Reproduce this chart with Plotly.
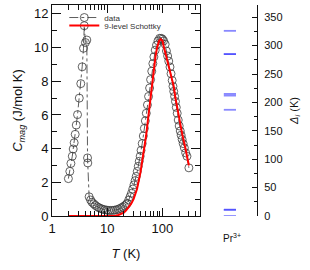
import plotly.graph_objects as go

# ---- data ----
T_data = [1.98, 2.1, 2.2, 2.33, 2.42, 2.52, 2.63, 2.75, 2.9, 3.12, 3.32, 3.52, 3.72, 3.84, 4.03, 4.27,
          4.40, 4.45, 4.7, 5.0, 5.3, 5.7, 6.1, 6.6, 7.1, 7.7, 8.3, 9.0, 9.8, 10.6, 11.5, 12.5, 13.6,
          14.8, 16.0, 17.4, 18.9, 20.5, 22.0, 23.0, 24.5, 26.0, 27.5, 29.0, 30.5, 32.0, 33.5, 35.0,
          36.5, 38.0, 39.5, 41.0, 43.0, 45.0, 47.0, 49.0, 51.0, 53.5, 56.0, 58.5, 61.0, 64.0, 67.0,
          70.0, 74.0, 78.0, 83.0, 89.0, 95.0, 100.0, 105.0, 112.0, 118.0, 124.0, 130.0, 137.0, 143.0,
          150.0, 155.0, 160.0, 166.0, 172.0, 178.0, 185.0, 193.0, 201.0, 210.0, 218.0, 227.0, 237.0,
          249.0, 263.0, 278.0, 301.0]
C_data = [2.22, 2.65, 3.12, 3.55, 3.98, 4.35, 4.85, 5.4, 6.02, 7.0, 7.86, 8.86, 9.96, 11.3, 10.3, 10.45,
          3.45, 3.15, 1.14, 0.95, 0.82, 0.72, 0.63, 0.55, 0.49, 0.44, 0.40, 0.37, 0.35, 0.33, 0.33, 0.33,
          0.35, 0.37, 0.41, 0.46, 0.53, 0.60, 0.68, 0.75, 0.95, 1.15, 1.35, 1.6, 1.85, 2.1, 2.35, 2.65,
          2.95, 3.25, 3.55, 3.9, 4.3, 4.75, 5.2, 5.65, 6.1, 6.6, 7.1, 7.6, 8.1, 8.6, 9.05, 9.45, 9.85,
          10.15, 10.4, 10.55, 10.55, 10.5, 10.4, 10.2, 9.8, 9.5, 9.2, 8.85, 8.45, 8.05, 7.7, 7.4, 7.1,
          6.8, 6.45, 6.1, 5.7, 5.35, 5.05, 4.8, 4.55, 4.3, 4.05, 3.75, 3.55, 2.86]

T_fit = [2, 5, 10, 14, 16, 18, 20, 22, 24.4, 27, 30, 34.6, 40, 45.6, 50.5, 55, 60, 65, 70, 75, 80,
         87, 93, 100, 105, 121, 139, 160, 172, 197, 228, 262, 301]
C_fit = [0, 0, 0, 0.02, 0.06, 0.12, 0.2, 0.33, 0.5, 0.72, 1.0, 1.6, 2.6, 3.75, 4.75, 5.8, 6.9, 7.9,
         8.8, 9.5, 10.0, 10.4, 10.5, 10.4, 10.1, 9.27, 8.5, 7.7, 7.0, 5.84, 4.86, 3.98, 3.0]

levels_K = [0, 11, 11, 187, 212, 215, 285, 285, 326]   # Pr3+ crystal-field levels
level_x = [0.21, 0.5]

x_ticks = [1, 10, 100]
x_minor = [2, 3, 4, 5, 6, 7, 8, 9, 20, 30, 40, 50, 60, 70, 80, 90, 200, 300, 400]

FONT = "Liberation Sans, Arial, sans-serif"

fig = go.Figure()
fig.add_trace(go.Scatter(
    x=T_data, y=C_data, mode="lines+markers", name="data", legend="legend",
    line=dict(color="#333", width=0.8, dash="dashdot"),
    marker=dict(symbol="circle-open", size=8, color="#3a3a3a", line=dict(width=0.8)),
    xaxis="x", yaxis="y"))
fig.add_trace(go.Scatter(
    x=T_fit, y=C_fit, mode="lines", name="9-level Schottky", legend="legend2",
    line=dict(color="#ff0000", width=2), xaxis="x", yaxis="y"))

for lv in levels_K:
    fig.add_trace(go.Scatter(
        x=level_x, y=[lv, lv], mode="lines", showlegend=False,
        line=dict(color="rgba(40,40,255,0.55)", width=1.8), xaxis="x2", yaxis="y2"))

leg_common = dict(xanchor="left", yanchor="top", bgcolor="rgba(0,0,0,0)",
                  font=dict(size=8, color="#333"), itemwidth=30, tracegroupgap=0)

fig.update_layout(
    width=310, height=270,
    margin=dict(l=52, r=53, t=3, b=54),
    paper_bgcolor="white", plot_bgcolor="white",
    font=dict(family=FONT, size=13, color="#111"),
    showlegend=True,
    legend=dict(x=0.06, y=1 + 2 / 213, **leg_common),
    legend2=dict(x=0.06, y=1 - 6 / 213, **leg_common),
    xaxis=dict(type="log", domain=[0, 0.722], range=[0, 2.68],
               tickmode="array", tickvals=x_ticks, ticktext=["1", "10", "100"],
               ticks="inside", ticklen=8, tickwidth=1, tickcolor="#111",
               showline=True, linecolor="#111", linewidth=1, mirror="ticks",
               showgrid=False, zeroline=False,
               minor=dict(tickmode="array", tickvals=x_minor, ticks="inside", ticklen=5,
                          tickcolor="#111", showgrid=False),
               title=dict(text="<i>T</i> (K)", font=dict(size=13), standoff=14)),
    yaxis=dict(range=[0, 12.53], dtick=2, tick0=0,
               ticks="inside", ticklen=9, tickwidth=1, tickcolor="#111",
               showline=True, linecolor="#111", linewidth=1, mirror="ticks",
               showgrid=False, zeroline=False,
               minor=dict(dtick=1, ticks="inside", ticklen=5, tickcolor="#111", showgrid=False),
               title=dict(text="<i>C</i><sub><i>mag</i></sub> (J/mol K)", font=dict(size=13), standoff=8)),
    xaxis2=dict(domain=[0.795, 1], range=[0, 1], anchor="y2",
                visible=False, showgrid=False, zeroline=False),
    yaxis2=dict(anchor="x2", side="right", range=[0, 371.5], dtick=50, tick0=0,
                ticks="inside", ticklen=5, tickwidth=1, tickcolor="#111",
                showline=True, linecolor="#111", linewidth=1,
                showgrid=False, zeroline=False,
                tickfont=dict(size=11), ticklabelstandoff=4,
                minor=dict(dtick=25, ticks="inside", ticklen=3, tickcolor="#111", showgrid=False),
                title=dict(text="<i>Δ</i><sub><i>i</i></sub> (K)", font=dict(size=11), standoff=8)),
    annotations=[dict(x=0.4, y=-0.105, xref="x2", yref="paper", text="Pr<sup>3+</sup>",
                      showarrow=False, font=dict(size=10, color="#111"),
                      xanchor="center", yanchor="middle")],
)

fig.write_html("out.html", config={"displayModeBar": False},
               post_script="document.body.style.margin='0';")
